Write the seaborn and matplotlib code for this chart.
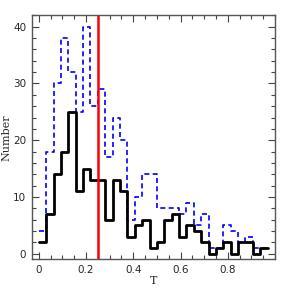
import matplotlib
matplotlib.use('Agg')
import matplotlib.pyplot as plt
import seaborn as sns
import numpy as np
import pandas as pd
from matplotlib.ticker import MultipleLocator

# histogram counts per bin of width 1/32 starting at T=0
bin_width = 1 / 32
black_counts = [2, 7, 14, 18, 25, 11, 15, 13, 13, 6, 13, 11, 3, 5, 6, 1,
                2, 6, 7, 3, 5, 4, 2, 0, 1, 2, 0, 2, 2, 0, 1]
blue_counts = [4, 18, 30, 38, 32, 25, 40, 26, 29, 17, 24, 20, 6, 10, 14, 14,
               8, 8, 8, 7, 9, 5, 7, 1, 1, 5, 4, 2, 3, 1, 1]
t_cut = 0.25

nbins = len(black_counts)
centers = (np.arange(nbins) + 0.5) * bin_width
df = pd.DataFrame({'T': centers, 'black': black_counts, 'blue': blue_counts})

sns.set_style('ticks')
fig = plt.figure(figsize=(2.91, 2.91), dpi=100)
ax = fig.add_axes([0.109, 0.109, 0.836, 0.838])

hist_kw = dict(binwidth=bin_width, binrange=(0, nbins * bin_width),
               element='step', fill=False, ax=ax)
sns.histplot(data=df, x='T', weights='blue', color='blue',
             linestyle=(0, (3, 2)), linewidth=1.2, **hist_kw)
sns.histplot(data=df, x='T', weights='black', color='black',
             linewidth=2.0, **hist_kw)
ax.axvline(t_cut, color='red', linewidth=1.8)

ax.set_xlim(-0.03, 1.0)
ax.set_ylim(-1, 42)
ax.xaxis.set_major_locator(MultipleLocator(0.2))
ax.xaxis.set_minor_locator(MultipleLocator(0.05))
ax.yaxis.set_major_locator(MultipleLocator(10))
ax.yaxis.set_minor_locator(MultipleLocator(2))
ax.set_xticks([0, 0.2, 0.4, 0.6, 0.8])
ax.set_xticklabels(['0', '0.2', '0.4', '0.6', '0.8'])
ax.tick_params(which='both', direction='in', top=True, right=True,
               labelsize=7.5, color='#444444', pad=4)
ax.tick_params(which='major', length=5, width=0.8)
ax.tick_params(which='minor', length=2.7, width=0.8)
for s in ax.spines.values():
    s.set_color('#555555')
    s.set_linewidth(1.0)

ax.set_xlabel('T', family='DejaVu Serif', fontsize=8, labelpad=1)
ax.set_ylabel('Number', family='DejaVu Serif', fontsize=8, labelpad=1)

fig.savefig('out.png', dpi=100)
